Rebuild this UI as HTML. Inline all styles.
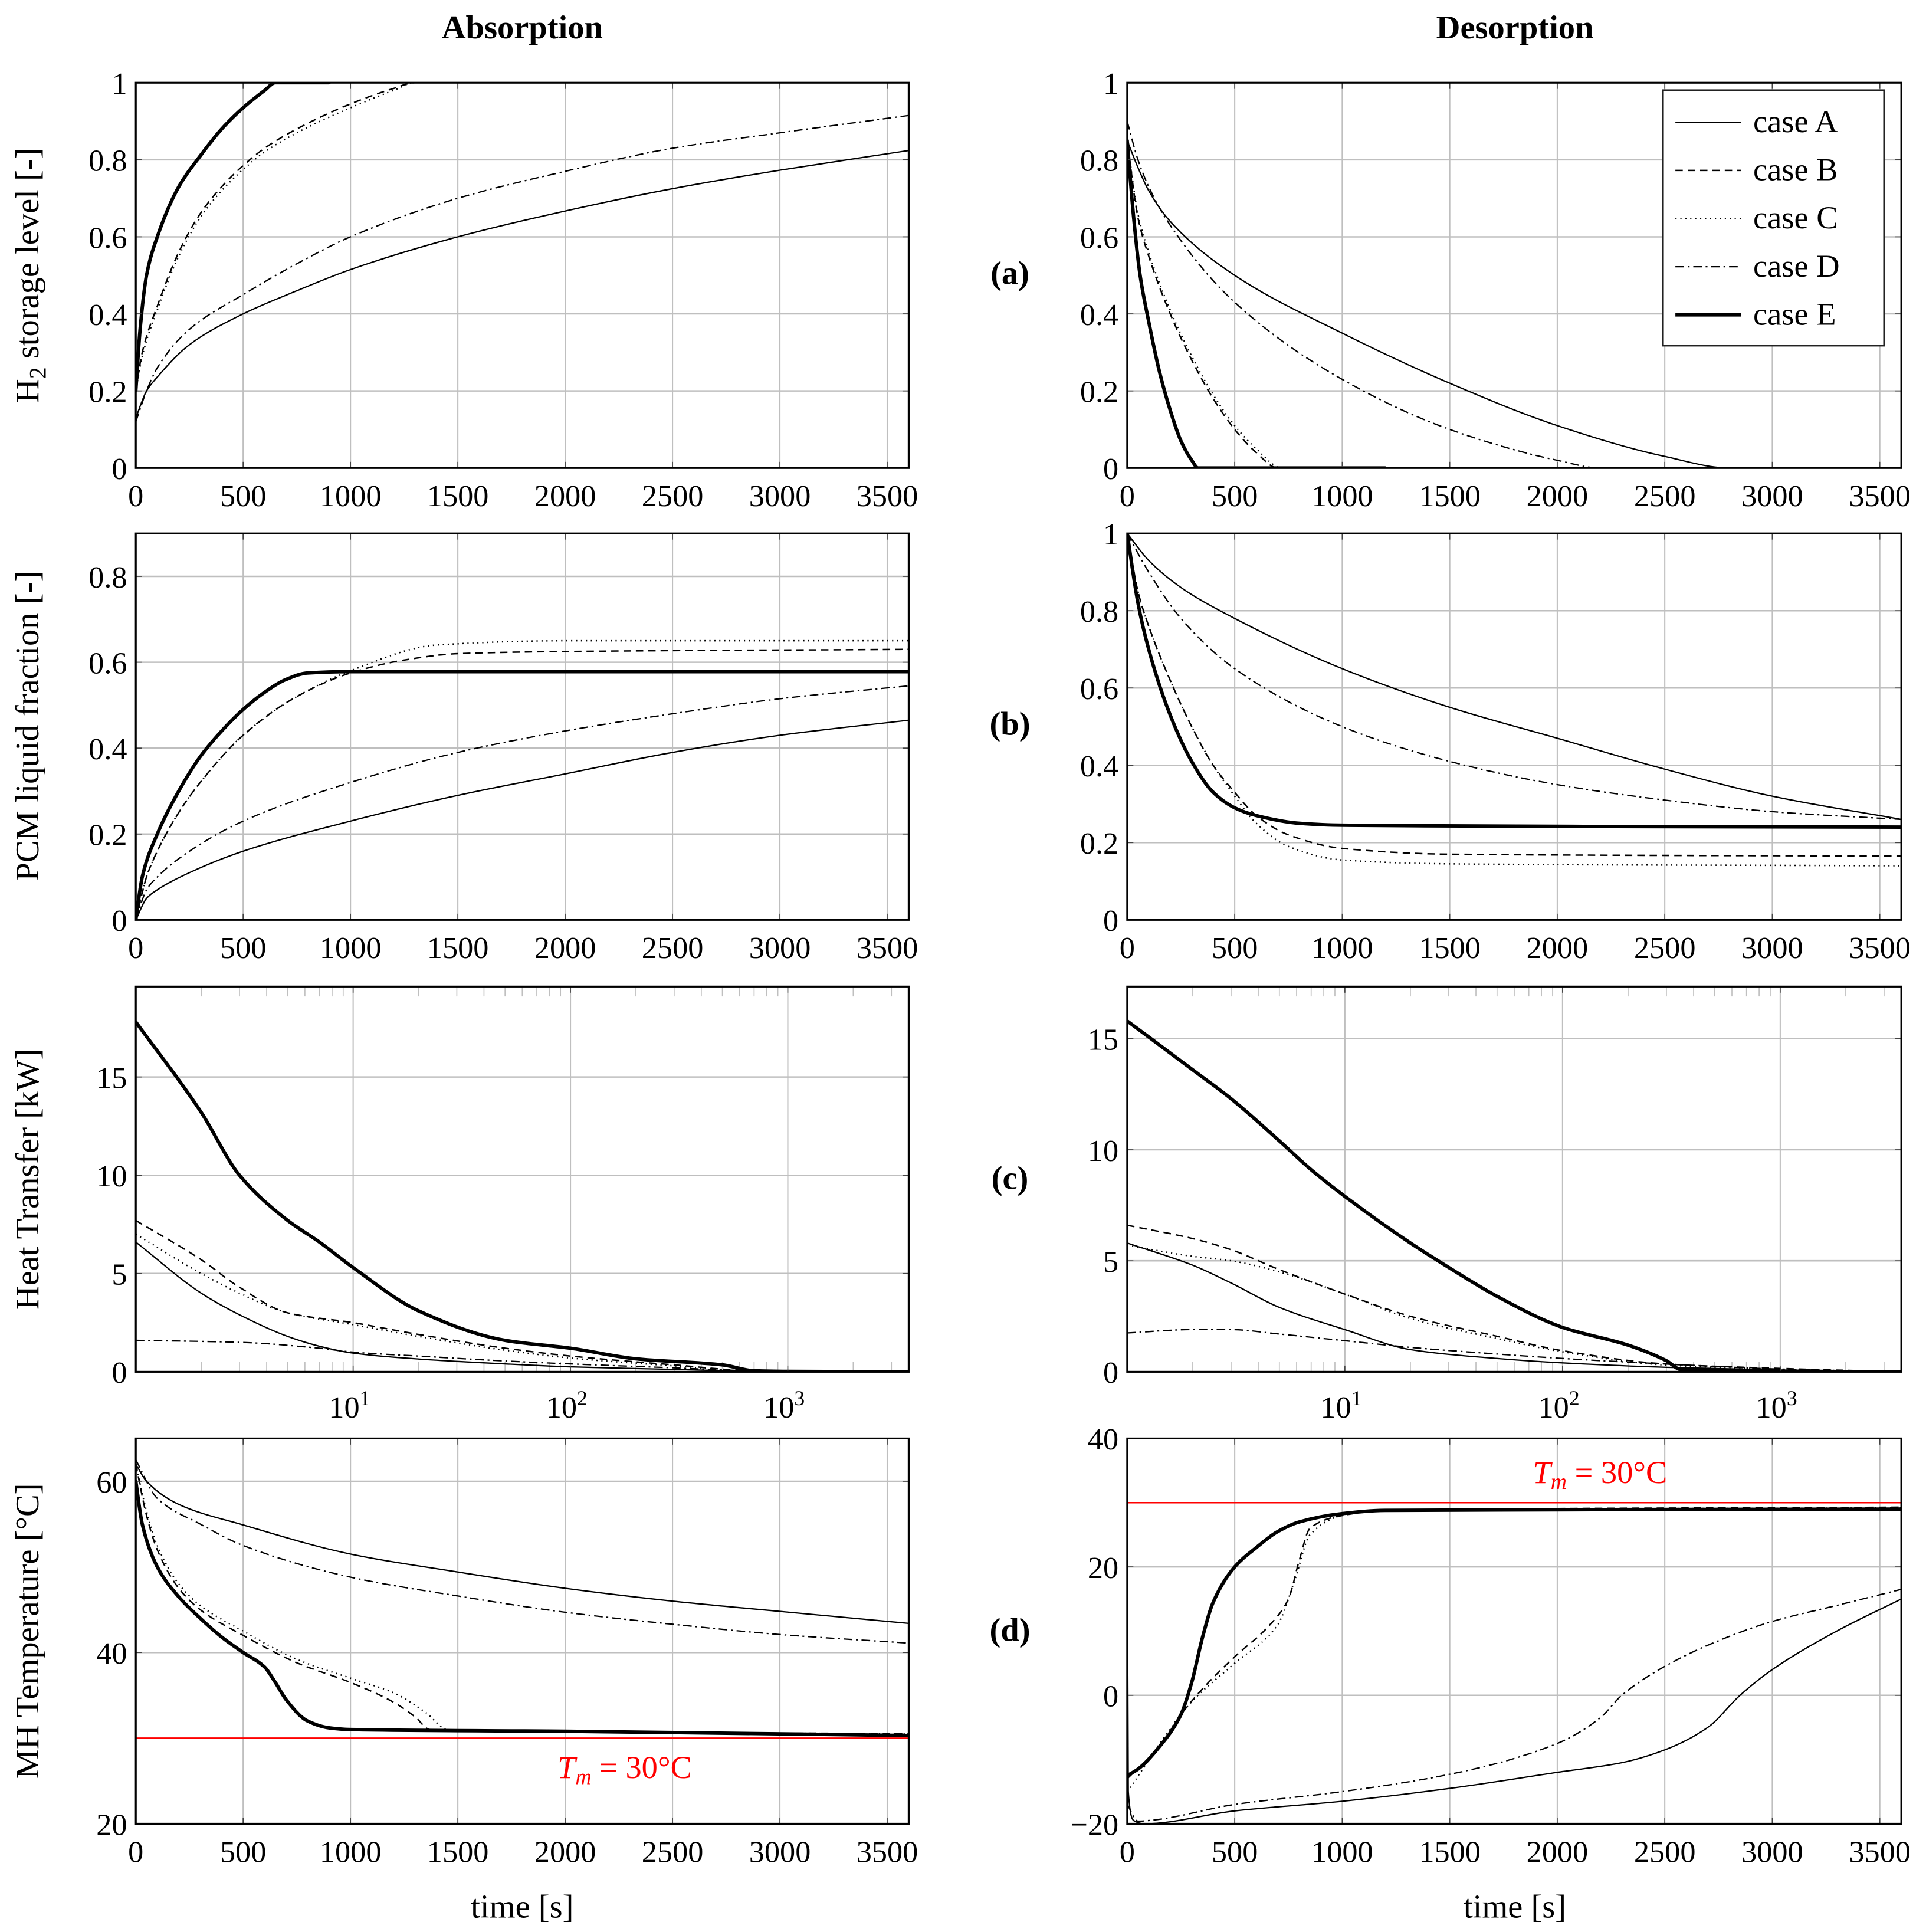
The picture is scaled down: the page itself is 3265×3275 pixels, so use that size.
<!DOCTYPE html>
<html><head><meta charset="utf-8"><style>
html,body{margin:0;padding:0;background:#fff}
svg{display:block}
text{font-family:"Liberation Serif",serif;fill:#000}
</style></head><body>
<svg id="fig" width="3265" height="3275" viewBox="0 0 1560 1564.7" preserveAspectRatio="none" xmlns="http://www.w3.org/2000/svg">
<text x="423" y="31" font-size="27" font-weight="bold" text-anchor="middle">Absorption</text>
<text x="1227" y="31" font-size="27" font-weight="bold" text-anchor="middle">Desorption</text>
</svg>
<script>
// ---------- data (x in seconds, y in data units) ----------
const tAbsA1=[0,0,50,100,250,500,750,1000,1500,2000,2500,3000,3600];
const yAbsA1=[0,0.13,0.2,0.236,0.32,0.40,0.46,0.515,0.6,0.667,0.725,0.773,0.824];
const tAbsB1=[0,30,100,200,300,400,500,600,750,1000,1200,1300,3600];
const yAbsB1=[0.2,0.3,0.42,0.56,0.66,0.73,0.785,0.83,0.88,0.945,0.985,1.0,1.0];
const tAbsC1=[0,30,100,200,300,400,500,600,750,1000,1200,1300,3600];
const yAbsC1=[0.2,0.29,0.41,0.55,0.65,0.72,0.775,0.82,0.87,0.935,0.98,1.0,1.0];
const tAbsD1=[0,50,100,250,500,750,1000,1500,2000,2500,3000,3600];
const yAbsD1=[0.12,0.2,0.26,0.36,0.45,0.53,0.6,0.7,0.77,0.83,0.87,0.915];
const tAbsE1=[0,20,50,100,200,300,400,500,600,650,900];
const yAbsE1=[0.2,0.36,0.5,0.6,0.73,0.81,0.88,0.935,0.98,1.0,1.0];

const tDesA1=[0,0,50,100,200,500,1000,1500,2000,2500,2800,3600];
const yDesA1=[1,0.85,0.78,0.72,0.64,0.5,0.35,0.22,0.11,0.03,0,0];
const tDesB1=[0,0,50,100,200,300,400,500,600,700,1100];
const yDesB1=[1,0.85,0.65,0.55,0.4,0.28,0.18,0.1,0.04,0,0];
const tDesC1=[0,0,50,100,200,300,400,500,600,720,1100];
const yDesC1=[1,0.85,0.66,0.56,0.41,0.29,0.19,0.11,0.05,0,0];
const tDesD1=[0,50,100,200,500,1000,1500,2000,2200,3600];
const yDesD1=[0.9,0.8,0.73,0.63,0.43,0.23,0.1,0.02,0,0];
const tDesE1=[0,30,60,100,150,200,250,300,330,1200];
const yDesE1=[0.85,0.65,0.5,0.38,0.25,0.15,0.07,0.02,0,0];

const tAbsA2=[0,50,100,250,500,1000,1500,2000,2500,3000,3600];
const yAbsA2=[0,0.05,0.07,0.11,0.16,0.23,0.29,0.34,0.39,0.43,0.465];
const tAbsB2=[0,50,100,200,300,500,750,1000,1250,1500,2000,3600];
const yAbsB2=[0,0.1,0.16,0.25,0.32,0.43,0.52,0.575,0.605,0.62,0.625,0.63];
const tAbsC2=[0,50,100,200,300,500,750,1000,1400,2000,3600];
const yAbsC2=[0,0.1,0.16,0.25,0.32,0.43,0.52,0.58,0.64,0.65,0.65];
const tAbsD2=[0,50,100,250,500,1000,1500,2000,2500,3000,3600];
const yAbsD2=[0,0.07,0.1,0.16,0.23,0.32,0.39,0.44,0.48,0.515,0.545];
const tAbsE2=[0,30,100,200,300,400,500,600,700,800,1000,3600];
const yAbsE2=[0,0.1,0.2,0.3,0.38,0.44,0.49,0.53,0.56,0.575,0.578,0.578];

const tDesA2=[0,100,250,500,1000,1500,2000,2500,3000,3600];
const yDesA2=[1,0.93,0.86,0.78,0.65,0.55,0.47,0.39,0.32,0.26];
const tDesB2=[0,50,100,200,300,400,500,600,750,1000,1500,3600];
const yDesB2=[1,0.85,0.76,0.62,0.5,0.4,0.33,0.27,0.22,0.185,0.17,0.165];
const tDesC2=[0,50,100,200,300,400,500,600,750,1000,1500,3600];
const yDesC2=[1,0.85,0.76,0.62,0.5,0.4,0.32,0.25,0.19,0.155,0.145,0.14];
const tDesD2=[0,100,250,500,1000,1500,2000,2500,3000,3600];
const yDesD2=[1,0.9,0.78,0.65,0.5,0.41,0.35,0.31,0.28,0.26];
const tDesE2=[0,50,100,200,300,400,500,600,800,1000,3600];
const yDesE2=[1,0.82,0.7,0.53,0.41,0.33,0.29,0.27,0.25,0.245,0.24];

const tAbsA3=[1,2,3,5,7,10,20,50,100,300,700,3600];
const yAbsA3=[6.6,4.0,2.9,1.8,1.3,0.95,0.65,0.4,0.25,0.12,0.03,0];
const tAbsB3=[1,2,3,5,10,20,50,100,300,700,3600];
const yAbsB3=[7.7,5.7,4.3,3.0,2.5,1.9,1.2,0.8,0.35,0.05,0];
const tAbsC3=[1,2,3,5,10,20,50,100,300,700,3600];
const yAbsC3=[7.0,5.0,4.0,3.0,2.4,1.8,1.1,0.7,0.3,0.04,0];
const tAbsD3=[1,3,7,10,20,50,100,300,700,3600];
const yAbsD3=[1.6,1.5,1.2,1.0,0.8,0.55,0.4,0.2,0.05,0];
const tAbsE3=[1,2,3,5,7,10,20,50,100,200,500,700,1000,3600];
const yAbsE3=[17.8,13.2,10.0,7.7,6.6,5.3,3.1,1.6,1.2,0.66,0.35,0.05,0.02,0];

const tDesA3=[1,2,3,5,10,20,50,100,300,1000,3600];
const yDesA3=[5.8,4.8,4.0,2.9,1.9,1.0,0.6,0.4,0.2,0.08,0];
const tDesB3=[1,2,3,5,10,20,50,100,300,1000,3600];
const yDesB3=[6.6,6.0,5.5,4.6,3.5,2.5,1.6,0.95,0.35,0.15,0];
const tDesC3=[1,2,3,5,10,20,50,100,300,1000,3600];
const yDesC3=[5.7,5.2,5.0,4.5,3.5,2.4,1.5,0.9,0.3,0.12,0];
const tDesD3=[1,2,3,5,10,20,50,100,300,1000,3600];
const yDesD3=[1.75,1.9,1.9,1.7,1.4,1.1,0.8,0.6,0.35,0.12,0];
const tDesE3=[1,2,3,5,7,10,20,30,50,100,200,300,350,1000,3600];
const yDesE3=[15.8,13.6,12.3,10.4,9.1,7.9,5.8,4.7,3.4,2.0,1.2,0.5,0.1,0.03,0];

const tAbsA4=[0,0,50,200,500,1000,1500,2000,2500,3000,3600];
const yAbsA4=[25,62,60,57.3,54.9,51.5,49.4,47.5,46,44.8,43.4];
const tAbsB4=[0,50,100,200,300,500,750,1000,1200,1300,1370,1500,3600];
const yAbsB4=[62,56,52,47.5,45,42,38.8,36.5,34.2,32.5,31,30.9,30.5];
const tAbsC4=[0,50,100,200,300,500,750,1000,1200,1350,1450,1500,3600];
const yAbsC4=[62,56.5,52.5,48,45.5,42.5,39.2,37,35.3,33,31,30.9,30.5];
const tAbsD4=[0,100,300,500,1000,1500,2000,2500,3000,3600];
const yAbsD4=[62.5,58,55,52.5,48.8,46.6,44.7,43.3,42.1,41.1];
const tAbsE4=[0,30,100,200,300,400,500,600,650,700,800,900,1000,2000,3600];
const yAbsE4=[60,55,50,46.5,44,41.8,40,38.3,36.5,34.5,32,31.2,31,30.8,30.3];

const tDesA4=[0,5,30,80,500,1000,1500,2000,2300,2500,2700,2850,3000,3300,3600];
const yDesA4=[30,-15,-19.5,-20,-18,-16.5,-14.5,-12,-10.5,-8.5,-5,0,4,10,15];
const tDesB4=[0,150,250,350,500,650,750,800,850,1000,1200,3600];
const yDesB4=[-13,-8,-3,1,6,10.5,15,21,26,28,28.8,29.3];
const tDesC4=[0,300,500,700,780,850,1000,1200,3600];
const yDesC4=[-15,-1,5,11,18,25,28,28.8,29.2];
const tDesD4=[0,50,100,500,1000,1500,2000,2200,2300,2500,2750,3000,3300,3600];
const yDesD4=[-17,-19.6,-19.5,-17,-15,-12.3,-7.5,-3.5,0,4.5,8.5,11.5,14,16.5];
const tDesE4=[0,50,150,250,300,350,400,500,600,700,800,1000,1200,3600];
const yDesE4=[-12.5,-11.5,-8,-3,2,9,14.5,20,23,25.5,27,28.3,28.8,29];

const linearTicks=[0,500,1000,1500,2000,2500,3000,3500];
const caseNames=["case A","case B","case C","case D","case E"];

// ---------- drawing ----------
const NS="http://www.w3.org/2000/svg";
const svg=document.getElementById('fig');
function mk(tag,attrs,parent){const e=document.createElementNS(NS,tag);for(const k in attrs)e.setAttribute(k,attrs[k]);(parent||svg).appendChild(e);return e;}
const styles={
 A:{w:1.1,dash:null},B:{w:1.2,dash:"6 4"},C:{w:1.2,dash:"1 3"},D:{w:1.1,dash:"7 3 1.5 3"},E:{w:2.8,dash:null}
};
const L={x0:110,x1:736},R={x0:913,x1:1540};
const rows=[{y0:67,y1:379},{y0:432,y1:745},{y0:799,y1:1111},{y0:1165,y1:1477}];
const f=v=>v.toFixed(2);
// monotone cubic (Fritsch–Carlson) on runs of strictly increasing x
function monoRun(P){
 const n=P.length;let d='';
 if(n<3){for(let i=1;i<n;i++)d+=` L${f(P[i][0])} ${f(P[i][1])}`;return d;}
 const dx=[],s=[];
 for(let i=0;i<n-1;i++){dx.push(P[i+1][0]-P[i][0]);s.push((P[i+1][1]-P[i][1])/dx[i]);}
 const m=new Array(n);
 m[0]=s[0];m[n-1]=s[n-2];
 for(let i=1;i<n-1;i++){
  if(s[i-1]*s[i]<=0)m[i]=0;
  else{const w1=2*dx[i]+dx[i-1],w2=dx[i]+2*dx[i-1];m[i]=(w1+w2)/(w1/s[i-1]+w2/s[i]);}
 }
 for(let i=0;i<n-1;i++){
  const h=dx[i];
  d+=` C${f(P[i][0]+h/3)} ${f(P[i][1]+m[i]*h/3)} ${f(P[i+1][0]-h/3)} ${f(P[i+1][1]-m[i+1]*h/3)} ${f(P[i+1][0])} ${f(P[i+1][1])}`;
 }
 return d;
}
function smoothPath(P){
 let d='M'+f(P[0][0])+' '+f(P[0][1]);
 let run=[P[0]];
 for(let i=1;i<P.length;i++){
  if(P[i][0]-P[i-1][0]>0.01){run.push(P[i]);}
  else{d+=monoRun(run);d+=` L${f(P[i][0])} ${f(P[i][1])}`;run=[P[i]];}
 }
 d+=monoRun(run);
 return d;
}
let clipId=0;
function panel(col,row,cfg){
 const x0=col.x0,x1=col.x1,y0=row.y0,y1=row.y1;
 const g=mk('g',{});
 
 
 const sx=cfg.log?(v=>x0+(Math.log10(v))/(Math.log10(3600))*(x1-x0)):(v=>x0+v/3600*(x1-x0));
 const sy=v=>y1-(v-cfg.ymin)/(cfg.ymax-cfg.ymin)*(y1-y0);
 const xt=cfg.log?[10,100,1000]:linearTicks;
 xt.forEach(t=>{const l=mk('line',{x1:sx(t),x2:sx(t),y1:y0,y2:y1,stroke:'#bfbfbf','stroke-width':1},g);
  });
 cfg.yt.forEach(t=>{const l=mk('line',{x1:x0,x2:x1,y1:sy(t),y2:sy(t),stroke:'#bfbfbf','stroke-width':1.2},g);
  });
 if(cfg.log){
  for(let k=0;k<4;k++)for(let m=2;m<10;m++){const v=m*Math.pow(10,k);if(v>3600)break;
   const px=sx(v);
   mk('line',{x1:px,x2:px,y1:y0,y2:y0+8,stroke:'#bfbfbf','stroke-width':0.8},g);
   mk('line',{x1:px,x2:px,y1:y1,y2:y1-8,stroke:'#bfbfbf','stroke-width':0.8},g);}
 }
 xt.forEach(t=>{
  if(cfg.log){const e=Math.round(Math.log10(t));const tx=mk('text',{x:sx(t)-3,y:y1+37,'font-size':25,'text-anchor':'middle'},g);
   tx.textContent='10';const s=mk('tspan',{dy:-10,'font-size':17},tx);s.textContent=String(e);
   }
  else{const tx=mk('text',{x:sx(t),y:y1+31,'font-size':25,'text-anchor':'middle'},g);tx.textContent=String(t);
   }
 });
 cfg.yt.forEach((t,i)=>{const tx=mk('text',{x:x0-7,y:sy(t)+9,'font-size':25,'text-anchor':'end'},g);
  tx.textContent=cfg.ylab[i];});
 const cp=mk('clipPath',{id:'cp'+(++clipId)},g);mk('rect',{x:x0,y:y0,width:x1-x0,height:y1-y0},cp);
 const pg=mk('g',{'clip-path':'url(#cp'+clipId+')'},g);
 if(cfg.ref!==undefined){const l=mk('line',{x1:x0,x2:x1,y1:sy(cfg.ref),y2:sy(cfg.ref),stroke:'#ff0000','stroke-width':1.2},pg);
  
  const tx=mk('text',{x:cfg.refLabel[0],y:cfg.refLabel[1],'font-size':26,'text-anchor':'middle',style:'fill:#ff0000'},g);
  
  const it=mk('tspan',{'font-style':'italic'},tx);it.textContent='T';
  const sb=mk('tspan',{'font-style':'italic','font-size':18,dy:5},tx);sb.textContent='m';
  const rest=mk('tspan',{dy:-5},tx);rest.textContent=' = 30°C';}
 cfg.series.forEach(s=>{
  const st=styles[s.k];
  const P=s.t.map((t,i)=>[sx(t),sy(s.y[i])]);
  const p=mk('path',{d:smoothPath(P),fill:'none',stroke:'#000','stroke-width':st.w,'stroke-linejoin':'round','stroke-linecap':st.dash?'butt':'round'},pg);
  if(st.dash)p.setAttribute('stroke-dasharray',st.dash);
  
  
 });
 xt.forEach(t=>{mk('line',{x1:sx(t),x2:sx(t),y1:y0,y2:y0+5,stroke:'#444','stroke-width':0.8},g);mk('line',{x1:sx(t),x2:sx(t),y1:y1,y2:y1-5,stroke:'#444','stroke-width':0.8},g);});
 cfg.yt.forEach(t=>{mk('line',{x1:x0,x2:x0+5,y1:sy(t),y2:sy(t),stroke:'#444','stroke-width':0.8},g);mk('line',{x1:x1,x2:x1-5,y1:sy(t),y2:sy(t),stroke:'#444','stroke-width':0.8},g);});
 const fr=mk('rect',{x:x0,y:y0,width:x1-x0,height:y1-y0,fill:'none',stroke:'#000','stroke-width':1.5},g);
 
}
const y01=[0,0.2,0.4,0.6,0.8,1],y01l=['0','0.2','0.4','0.6','0.8','1'];
panel(L,rows[0],{name:'absorption-h2-storage-panel',ymin:0,ymax:1,yt:y01,ylab:y01l,series:[
 {k:'A',t:tAbsA1,y:yAbsA1},{k:'B',t:tAbsB1,y:yAbsB1},{k:'C',t:tAbsC1,y:yAbsC1},{k:'D',t:tAbsD1,y:yAbsD1},{k:'E',t:tAbsE1,y:yAbsE1}]});
panel(R,rows[0],{name:'desorption-h2-storage-panel',ymin:0,ymax:1,yt:y01,ylab:y01l,series:[
 {k:'A',t:tDesA1,y:yDesA1},{k:'B',t:tDesB1,y:yDesB1},{k:'C',t:tDesC1,y:yDesC1},{k:'D',t:tDesD1,y:yDesD1},{k:'E',t:tDesE1,y:yDesE1}]});
panel(L,rows[1],{name:'absorption-pcm-panel',ymin:0,ymax:0.9,yt:[0,0.2,0.4,0.6,0.8],ylab:['0','0.2','0.4','0.6','0.8'],series:[
 {k:'A',t:tAbsA2,y:yAbsA2},{k:'B',t:tAbsB2,y:yAbsB2},{k:'C',t:tAbsC2,y:yAbsC2},{k:'D',t:tAbsD2,y:yAbsD2},{k:'E',t:tAbsE2,y:yAbsE2}]});
panel(R,rows[1],{name:'desorption-pcm-panel',ymin:0,ymax:1,yt:y01,ylab:y01l,series:[
 {k:'A',t:tDesA2,y:yDesA2},{k:'B',t:tDesB2,y:yDesB2},{k:'C',t:tDesC2,y:yDesC2},{k:'D',t:tDesD2,y:yDesD2},{k:'E',t:tDesE2,y:yDesE2}]});
panel(L,rows[2],{name:'absorption-heat-transfer-panel',log:true,ymin:0,ymax:19.6,yt:[0,5,10,15],ylab:['0','5','10','15'],series:[
 {k:'A',t:tAbsA3,y:yAbsA3},{k:'B',t:tAbsB3,y:yAbsB3},{k:'C',t:tAbsC3,y:yAbsC3},{k:'D',t:tAbsD3,y:yAbsD3},{k:'E',t:tAbsE3,y:yAbsE3}]});
panel(R,rows[2],{name:'desorption-heat-transfer-panel',log:true,ymin:0,ymax:17.35,yt:[0,5,10,15],ylab:['0','5','10','15'],series:[
 {k:'A',t:tDesA3,y:yDesA3},{k:'B',t:tDesB3,y:yDesB3},{k:'C',t:tDesC3,y:yDesC3},{k:'D',t:tDesD3,y:yDesD3},{k:'E',t:tDesE3,y:yDesE3}]});
panel(L,rows[3],{name:'absorption-temperature-panel',ymin:20,ymax:65,yt:[20,40,60],ylab:['20','40','60'],ref:30,refLabel:[506,1440],series:[
 {k:'A',t:tAbsA4,y:yAbsA4},{k:'B',t:tAbsB4,y:yAbsB4},{k:'C',t:tAbsC4,y:yAbsC4},{k:'D',t:tAbsD4,y:yAbsD4},{k:'E',t:tAbsE4,y:yAbsE4}]});
panel(R,rows[3],{name:'desorption-temperature-panel',ymin:-20,ymax:40,yt:[-20,0,20,40],ylab:['−20','0','20','40'],ref:30,refLabel:[1296,1201],series:[
 {k:'A',t:tDesA4,y:yDesA4},{k:'B',t:tDesB4,y:yDesB4},{k:'C',t:tDesC4,y:yDesC4},{k:'D',t:tDesD4,y:yDesD4},{k:'E',t:tDesE4,y:yDesE4}]});

function vlabel(txt,cy,name,sub){const t=mk('text',{x:0,y:0,'font-size':27,'text-anchor':'middle',transform:`translate(31,${cy}) rotate(-90)`});
 
 if(sub){const a=mk('tspan',{},t);a.textContent='H';const b=mk('tspan',{'font-size':19,dy:6},t);b.textContent='2';const c=mk('tspan',{dy:-6},t);c.textContent=' storage level [-]';}
 else t.textContent=txt;}
vlabel('',223,'h2-storage-y-axis-title',true);
vlabel('PCM liquid fraction [-]',588,'pcm-liquid-fraction-y-axis-title');
vlabel('Heat Transfer [kW]',955,'heat-transfer-y-axis-title');
vlabel('MH Temperature [°C]',1321,'mh-temperature-y-axis-title');
[['(a)',230],['(b)',595],['(c)',963],['(d)',1329]].forEach(p=>{const t=mk('text',{x:818,y:p[1],'font-size':27,'font-weight':'bold','text-anchor':'middle'});t.textContent=p[0];
 });
[[423,'absorption'],[1227,'desorption']].forEach(p=>{const t=mk('text',{x:p[0],y:1553,'font-size':27,'text-anchor':'middle'});t.textContent='time [s]';
 });

const lg=mk('g',{});


mk('rect',{x:1347,y:73,width:179,height:207,fill:'#fff',stroke:'#222','stroke-width':1.3},lg);
['A','B','C','D','E'].forEach((k,i)=>{const y=99+i*39;const st=styles[k];
 const e=mk('g',{},lg);
 
 
 const l=mk('line',{x1:1357,x2:1410,y1:y,y2:y,stroke:'#000','stroke-width':st.w},e);if(st.dash)l.setAttribute('stroke-dasharray',st.dash);
 const t=mk('text',{x:1420,y:y+8,'font-size':26},e);t.textContent=caseNames[i];});
</script>
</body></html>
